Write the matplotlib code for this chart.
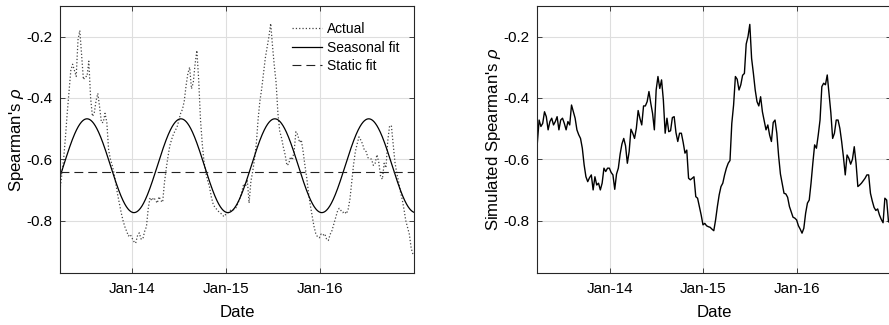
import numpy as np
import pandas as pd
import matplotlib
matplotlib.use("Agg")
import matplotlib.pyplot as plt
import matplotlib.dates as mdates

plt.rcParams['font.family'] = ['Liberation Sans', 'DejaVu Sans']
plt.rcParams['mathtext.fontset'] = 'custom'
plt.rcParams['mathtext.it'] = 'Liberation Sans:italic'
plt.rcParams['mathtext.rm'] = 'Liberation Sans'
plt.rcParams['axes.unicode_minus'] = False

# ---------------- data ----------------
start_date = '2013-03-26'
end_date = '2016-12-31'

actual = [
    -0.700, -0.650, -0.600, -0.530, -0.450, -0.380, -0.310, -0.290, -0.310, -0.330,
    -0.210, -0.180, -0.260, -0.340, -0.330, -0.330, -0.280, -0.400, -0.460, -0.450,
    -0.410, -0.385, -0.430, -0.480, -0.480, -0.450, -0.480, -0.570, -0.600, -0.620,
    -0.645, -0.680, -0.715, -0.745, -0.775, -0.800, -0.820, -0.835, -0.850, -0.845,
    -0.857, -0.868, -0.874, -0.850, -0.840, -0.860, -0.860, -0.835, -0.820, -0.760,
    -0.725, -0.735, -0.725, -0.733, -0.743, -0.722, -0.735, -0.740, -0.676, -0.630,
    -0.590, -0.555, -0.535, -0.518, -0.506, -0.495, -0.473, -0.450, -0.437, -0.410,
    -0.360, -0.320, -0.300, -0.370, -0.350, -0.290, -0.245, -0.340, -0.470, -0.550,
    -0.610, -0.645, -0.670, -0.690, -0.722, -0.745, -0.757, -0.763, -0.770, -0.775,
    -0.780, -0.787, -0.780, -0.776, -0.770, -0.765, -0.765, -0.763, -0.756, -0.740,
    -0.725, -0.705, -0.680, -0.689, -0.667, -0.743, -0.672, -0.640, -0.600, -0.550,
    -0.470, -0.410, -0.370, -0.320, -0.270, -0.235, -0.200, -0.157, -0.230, -0.295,
    -0.350, -0.450, -0.508, -0.530, -0.560, -0.585, -0.620, -0.615, -0.592, -0.602,
    -0.575, -0.510, -0.520, -0.545, -0.537, -0.575, -0.620, -0.660, -0.710, -0.750,
    -0.783, -0.818, -0.842, -0.853, -0.856, -0.844, -0.848, -0.843, -0.860, -0.865,
    -0.845, -0.833, -0.812, -0.790, -0.771, -0.760, -0.767, -0.774, -0.770, -0.778,
    -0.763, -0.730, -0.675, -0.618, -0.575, -0.550, -0.527, -0.537, -0.550, -0.570,
    -0.575, -0.595, -0.597, -0.600, -0.620, -0.613, -0.585, -0.610, -0.655, -0.665,
    -0.613, -0.628, -0.540, -0.492, -0.490, -0.550, -0.610, -0.645, -0.672, -0.705,
    -0.730, -0.763, -0.800, -0.822, -0.845, -0.890, -0.910,
]

simulated = [
    -0.548, -0.472, -0.493, -0.483, -0.445, -0.461, -0.504, -0.477, -0.466, -0.488,
    -0.477, -0.461, -0.504, -0.472, -0.466, -0.483, -0.504, -0.477, -0.488, -0.423,
    -0.445, -0.466, -0.504, -0.520, -0.532, -0.564, -0.618, -0.657, -0.673, -0.660,
    -0.651, -0.700, -0.657, -0.684, -0.678, -0.700, -0.678, -0.629, -0.640, -0.629,
    -0.629, -0.643, -0.651, -0.698, -0.648, -0.629, -0.583, -0.550, -0.532, -0.556,
    -0.613, -0.575, -0.502, -0.515, -0.532, -0.499, -0.441, -0.467, -0.488, -0.426,
    -0.426, -0.412, -0.379, -0.417, -0.450, -0.504, -0.374, -0.330, -0.369, -0.341,
    -0.407, -0.515, -0.466, -0.510, -0.507, -0.464, -0.461, -0.513, -0.542, -0.515,
    -0.515, -0.545, -0.580, -0.570, -0.662, -0.667, -0.662, -0.657, -0.722, -0.727,
    -0.754, -0.782, -0.814, -0.809, -0.817, -0.820, -0.822, -0.828, -0.833, -0.798,
    -0.754, -0.716, -0.689, -0.678, -0.651, -0.629, -0.613, -0.604, -0.483, -0.423,
    -0.330, -0.339, -0.374, -0.357, -0.326, -0.320, -0.224, -0.200, -0.160, -0.271,
    -0.320, -0.374, -0.412, -0.426, -0.396, -0.445, -0.474, -0.504, -0.488, -0.521,
    -0.542, -0.480, -0.472, -0.515, -0.589, -0.648, -0.680, -0.711, -0.713, -0.724,
    -0.754, -0.771, -0.789, -0.792, -0.798, -0.817, -0.828, -0.841, -0.825, -0.776,
    -0.743, -0.733, -0.678, -0.613, -0.553, -0.564, -0.521, -0.472, -0.363, -0.352,
    -0.357, -0.325, -0.385, -0.448, -0.532, -0.515, -0.472, -0.472, -0.499, -0.542,
    -0.593, -0.651, -0.586, -0.597, -0.616, -0.600, -0.559, -0.613, -0.689, -0.684,
    -0.678, -0.670, -0.662, -0.651, -0.651, -0.711, -0.736, -0.757, -0.767, -0.762,
    -0.782, -0.796, -0.807, -0.727, -0.733, -0.803, -0.809,
]

# fitted models (parameters)
seasonal_mean = -0.621
seasonal_amplitude = 0.153
seasonal_peak_doy = 190          # day of year of the seasonal maximum
static_fit = -0.64

xtick_dates = ['2014-01-01', '2015-01-01', '2016-01-01']
yticks = [-0.8, -0.6, -0.4, -0.2]
ylims = (-0.97, -0.1)

# ---------------- derived ----------------
dates = pd.date_range(start_date, periods=len(actual), freq='7D')
fit_dates = pd.date_range(start_date, end_date, freq='D')
seasonal = seasonal_mean + seasonal_amplitude * np.cos(
    2 * np.pi * (fit_dates.dayofyear.values - seasonal_peak_doy) / 365.25)

# ---------------- figure ----------------
W, H = 889, 325
fig = plt.figure(figsize=(W / 100, H / 100), dpi=100)
ax1 = fig.add_axes([60 / W, 52.3 / H, 354 / W, 266.7 / H])
ax2 = fig.add_axes([537.3 / W, 52.3 / H, 354 / W, 266.7 / H])

def style(ax):
    ax.set_xlim(pd.Timestamp(start_date), pd.Timestamp(end_date))
    ax.set_ylim(*ylims)
    ax.set_yticks(yticks)
    ax.set_yticklabels([f"{v:.1f}" for v in yticks])
    ax.set_xticks(pd.to_datetime(xtick_dates))
    ax.xaxis.set_major_formatter(mdates.DateFormatter('%b-%y'))
    ax.grid(True, color='#dedede', lw=0.8)
    ax.set_axisbelow(True)
    ax.tick_params(direction='in', top=True, right=True, length=3.5,
                   width=0.6, labelsize=11, colors='#262626')
    ax.tick_params(axis='x', pad=7, labelcolor='black')
    ax.tick_params(axis='y', pad=5.5, labelcolor='black')
    for s in ax.spines.values():
        s.set_color('#262626')
        s.set_linewidth(0.8)
    ax.set_xlabel('Date', fontsize=12.1, labelpad=6.5)

style(ax1)
style(ax2)

ax1.plot(dates, actual, ls=':', color='#444444', lw=0.9, label='Actual')
ax1.plot(fit_dates, seasonal, '-', color='black', lw=0.9, label='Seasonal fit')
ax1.plot([fit_dates[0], fit_dates[-1]], [static_fit, static_fit], color='#222222',
         lw=0.8, dashes=(8, 4.5), label='Static fit')
ax1.set_ylabel(r"Spearman's $\it{\rho}$", fontsize=12.1, labelpad=0.5)
leg = ax1.legend(loc='upper left', bbox_to_anchor=(0.655, 0.94), frameon=False,
                 fontsize=9.9, handlelength=2.2, handletextpad=0.35,
                 labelspacing=0.33, borderpad=0, borderaxespad=0)

ax2.plot(dates, simulated, '-', color='black', lw=1.0)
ax2.set_ylabel(r"Simulated Spearman's $\it{\rho}$", fontsize=12.1, labelpad=0.5)

fig.savefig('out.png', dpi=100)
